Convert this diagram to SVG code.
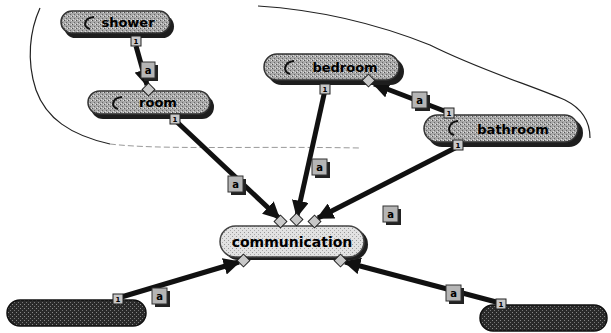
<svg xmlns="http://www.w3.org/2000/svg" width="611" height="333" viewBox="0 0 611 333">
<defs>
<pattern id="stip" width="4" height="4" patternUnits="userSpaceOnUse">
<rect width="4" height="4" fill="#a9a9a9"/>
<rect x="0" y="0" width="1" height="1" fill="#555"/>
<rect x="2" y="2" width="1" height="1" fill="#666"/>
<rect x="3" y="0" width="1" height="1" fill="#e0e0e0"/>
<rect x="1" y="3" width="1" height="1" fill="#dcdcdc"/>
</pattern>
<pattern id="stipL" width="4" height="4" patternUnits="userSpaceOnUse">
<rect width="4" height="4" fill="#e2e2e2"/>
<rect x="0" y="0" width="1" height="1" fill="#999"/>
<rect x="2" y="2" width="1" height="1" fill="#aaa"/>
</pattern>
<pattern id="stipD" width="4" height="4" patternUnits="userSpaceOnUse">
<rect width="4" height="4" fill="#2a2a2a"/>
<rect x="0" y="0" width="1" height="1" fill="#888"/>
<rect x="2" y="2" width="1" height="1" fill="#777"/>
</pattern>
<marker id="ah" viewBox="0 0 10 10" refX="9" refY="5" markerWidth="3.4" markerHeight="3.4" orient="auto" markerUnits="strokeWidth">
<path d="M0,0 L10,5 L0,10 z" fill="#111"/>
</marker>
</defs>
<style>
.shadow{fill:#1e1e1e}
.pill{fill:url(#stip);stroke:#333;stroke-width:1.5}
.pillL{fill:url(#stipL);stroke:#444;stroke-width:1.5}
.pillD{fill:url(#stipD);stroke:#111;stroke-width:1.5}
.curl{fill:none;stroke:#111;stroke-width:2}
.lbl{font-family:"DejaVu Sans",sans-serif;font-weight:bold;font-size:13px;fill:#000;text-anchor:middle}
.conn{stroke:#111;stroke-width:5;fill:none;stroke-linecap:butt}
.tag{fill:#b5b5b5;stroke:#333;stroke-width:1}
.tagsh{fill:#222}
.tagt{font-family:"DejaVu Sans",sans-serif;font-weight:bold;font-size:10px;fill:#000;text-anchor:middle}
.port{fill:#c8c8c8;stroke:#222;stroke-width:1}
.portt{font-family:"DejaVu Sans",sans-serif;font-weight:bold;font-size:7px;fill:#000;text-anchor:middle}
.hand{fill:none;stroke:#222;stroke-width:1.2}
</style>

<g id="sketch">
<path class="hand" d="M40,8 C30,30 26,60 36,90 C46,118 70,135 110,144"/>
<path d="M110,144 C160,150 250,146 360,148" fill="none" stroke="#999" stroke-width="1" stroke-dasharray="6 3"/>
<path class="hand" d="M258,6 C320,10 380,25 430,45 C480,70 530,85 565,100 C585,110 590,125 590,138"/>
</g>

<g id="connectors">
<line class="conn" x1="136" y1="46" x2="147" y2="85" marker-end="url(#ah)" stroke-width="3.5"/>
<line class="conn" x1="177" y1="122" x2="279" y2="218" marker-end="url(#ah)"/>
<line class="conn" x1="325" y1="90" x2="297" y2="216" marker-end="url(#ah)"/>
<line class="conn" x1="457" y1="147" x2="318" y2="218" marker-end="url(#ah)"/>
<line class="conn" x1="447" y1="112" x2="374" y2="84" marker-end="url(#ah)"/>
<line class="conn" x1="118" y1="298" x2="239" y2="262" marker-end="url(#ah)"/>
<line class="conn" x1="500" y1="303" x2="345" y2="262" marker-end="url(#ah)"/>
<g id="labels">
<rect class="tagsh" x="144" y="65" width="14" height="16"/><rect class="tag" x="141" y="62" width="14" height="16"/><text class="tagt" x="148" y="74">a</text>
<rect class="tagsh" x="231" y="179" width="15" height="16"/><rect class="tag" x="228" y="176" width="15" height="16"/><text class="tagt" x="235.5" y="188">a</text>
<rect class="tagsh" x="315" y="162" width="15" height="16"/><rect class="tag" x="312" y="159" width="15" height="16"/><text class="tagt" x="319.5" y="171">a</text>
<rect class="tagsh" x="386" y="209" width="15" height="16"/><rect class="tag" x="383" y="206" width="15" height="16"/><text class="tagt" x="390.5" y="218">a</text>
<rect class="tagsh" x="415" y="95" width="15" height="16"/><rect class="tag" x="412" y="92" width="15" height="16"/><text class="tagt" x="419.5" y="104">a</text>
<rect class="tagsh" x="155" y="291" width="15" height="16"/><rect class="tag" x="152" y="288" width="15" height="16"/><text class="tagt" x="159.5" y="300">a</text>
<rect class="tagsh" x="449" y="288" width="15" height="16"/><rect class="tag" x="446" y="285" width="15" height="16"/><text class="tagt" x="453.5" y="297">a</text>
</g>
</g>

<g id="shower">
<rect class="shadow" x="64" y="15" width="110" height="23" rx="11.5"/>
<rect class="pill" x="61" y="11" width="109" height="22" rx="11"/>
<path class="curl" d="M94,17 C84,18 82,27 90,29"/>
<text class="lbl" x="128" y="27">shower</text>
<rect class="port" x="131" y="36" width="10" height="10"/><text class="portt" x="136" y="44">1</text>
</g>

<g id="room">
<rect class="shadow" x="91" y="95" width="123" height="24" rx="12"/>
<rect class="pill" x="88" y="91" width="122" height="23" rx="11.5"/>
<path class="curl" d="M122,97 C112,98 110,107 118,109"/>
<text class="lbl" x="158" y="107">room</text>
<rect class="port" x="144" y="85" width="9" height="9" transform="rotate(45 148.5 89.5)"/>
<rect class="port" x="170" y="114" width="10" height="10"/><text class="portt" x="175" y="122">1</text>
</g>

<g id="bedroom">
<rect class="shadow" x="268" y="58" width="136" height="27" rx="13.5"/>
<rect class="pill" x="264" y="54" width="135" height="26" rx="13"/>
<path class="curl" d="M294,61 C284,62 282,72 290,74"/>
<text class="lbl" x="345" y="72">bedroom</text>
<rect class="port" x="320" y="84" width="10" height="10"/><text class="portt" x="325" y="92">1</text>
<rect class="port" x="364" y="76" width="9" height="9" transform="rotate(45 368.5 80.5)"/>
</g>

<g id="bathroom">
<rect class="shadow" x="428" y="119" width="155" height="28" rx="14"/>
<rect class="pill" x="424" y="115" width="154" height="27" rx="13.5"/>
<path class="curl" d="M458,121 C448,122 446,133 454,135"/>
<text class="lbl" x="513" y="134">bathroom</text>
<rect class="port" x="444" y="108" width="10" height="10"/><text class="portt" x="449" y="116">1</text>
<rect class="port" x="453" y="140" width="10" height="10"/><text class="portt" x="458" y="148">1</text>
</g>

<g id="communication">
<rect class="shadow" x="223" y="229" width="145" height="31" rx="15.5"/>
<rect class="pillL" x="220" y="226" width="144" height="31" rx="15.5"/>
<text class="lbl" x="292" y="247" style="font-size:14px">communication</text>
<rect class="port" x="276" y="217" width="9" height="9" transform="rotate(45 280.5 221.5)"/>
<rect class="port" x="292" y="215" width="9" height="9" transform="rotate(45 296.5 219.5)"/>
<rect class="port" x="310" y="217" width="9" height="9" transform="rotate(45 314.5 221.5)"/>
<rect class="port" x="239" y="256" width="9" height="9" transform="rotate(45 243.5 260.5)"/>
<rect class="port" x="336" y="256" width="9" height="9" transform="rotate(45 340.5 260.5)"/>
</g>

<g id="leftnode">
<rect class="pillD" x="7" y="300" width="139" height="26" rx="13"/>
<rect class="port" x="113" y="294" width="10" height="10"/><text class="portt" x="118" y="302">1</text>
</g>

<g id="rightnode">
<rect class="pillD" x="480" y="305" width="127" height="26" rx="13"/>
<rect class="port" x="496" y="299" width="10" height="10"/><text class="portt" x="501" y="307">1</text>
</g>
</svg>
